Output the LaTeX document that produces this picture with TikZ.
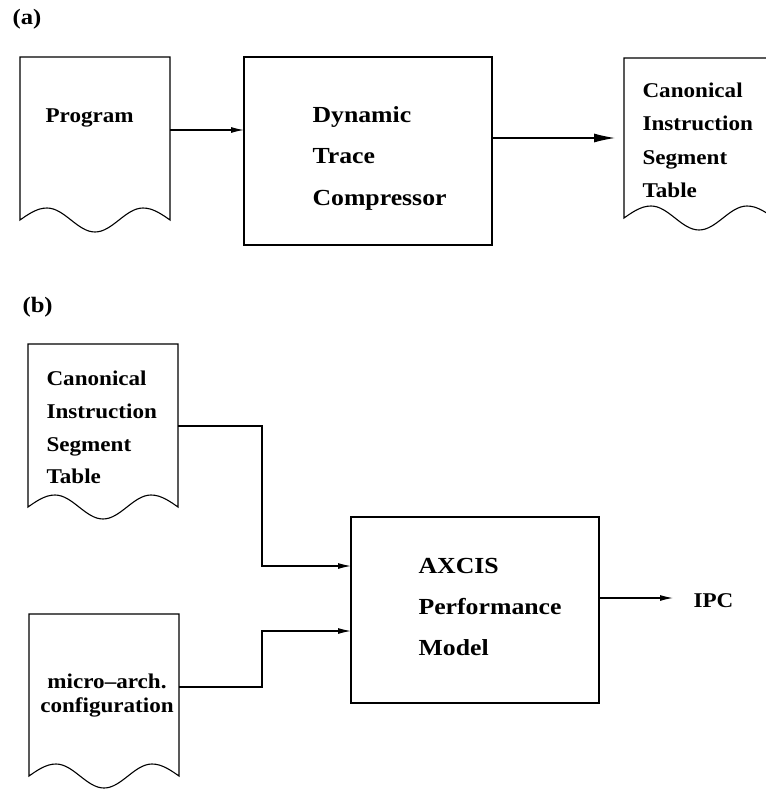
\documentclass[tikz,border=0pt]{standalone}
\usepackage{fontspec}
\setmainfont{Liberation Serif}
\newfontfamily\docfont[Ligatures=TeX,FakeStretch=1.1]{Liberation Serif}
\newfontfamily\boxfont[Ligatures=TeX,FakeStretch=1.12]{Liberation Serif}
\usetikzlibrary{arrows.meta}

% outline of a "document" shape drawn around an empty frame node
\newcommand\wavydoc[1]{%
  \draw (#1.south west) -- (#1.north west) -- (#1.north east) -- (#1.south east)
    sin ++(-27,-12) cos ++(-24,12) sin ++(-24,12)
    cos ++(-24,-12) sin ++(-24,-12) cos ++(-27,12) -- cycle;}

\begin{document}
\begin{tikzpicture}[x=1pt,y=-1pt,line width=1.1pt,
  arr/.style={-{Latex[length=13pt,width=6pt]}},
  bigarr/.style={-{Latex[length=21pt,width=9pt]}},
  docframe/.style={anchor=north west,inner sep=0pt,outer sep=0pt,minimum width=150pt},
  procbox/.style={draw,anchor=north west,inner sep=0pt,outer sep=0pt,minimum width=248pt},
  doctext/.style={anchor=base west,inner sep=0pt,font=\docfont\fontsize{21}{25}\selectfont\bfseries},
  boxtext/.style={anchor=base west,inner sep=0pt,font=\boxfont\fontsize{23}{28}\selectfont\bfseries},
  tag/.style={anchor=base west,inner sep=0pt,font=\boxfont\fontsize{22}{26}\selectfont\bfseries}]

\useasboundingbox (0,0) rectangle (765,789);

% ---------------- part (a) ----------------
\node[tag] (taga) at (12,25) {(a)};

\node[docframe,minimum height=163pt] (prog) at (20,57) {};
\wavydoc{prog}
\node[doctext] (progtxt) at (45,122) {Program};

\node[procbox,minimum height=188pt] (dtc) at (244,57) {};
\foreach \t/\y [count=\i] in {Dynamic/123,Trace/163,Compressor/205}
  \node[boxtext] (dtc-\i) at (312,\y) {\t};

\node[docframe,minimum height=160pt] (cista) at (624,58) {};
\wavydoc{cista}
\foreach \t/\y [count=\i] in {Canonical/98,Instruction/131,Segment/164,Table/197}
  \node[doctext] (cista-\i) at (642,\y) {\t};

\coordinate (cistain) at (615,138);
\draw[arr] (prog.east |- 0,130) -- (dtc.west |- 0,130);
\draw[bigarr] (dtc.east |- cistain) -- (cistain);

% ---------------- part (b) ----------------
\node[tag] (tagb) at (22,312) {(b)};

\node[docframe,minimum height=163pt] (cistb) at (28,344) {};
\wavydoc{cistb}
\foreach \t/\y [count=\i] in {Canonical/385,Instruction/418,Segment/451,Table/483}
  \node[doctext] (cistb-\i) at (46,\y) {\t};

\node[docframe,minimum height=162pt] (march) at (29,614) {};
\wavydoc{march}
\node[doctext,anchor=base] (march-1) at (107,688) {micro\textendash arch.};
\node[doctext,anchor=base] (march-2) at (107,712) {configuration};

\node[procbox,minimum height=186pt] (axcis) at (351,517) {};
\foreach \t/\y [count=\i] in {AXCIS/573,Performance/614,Model/655}
  \node[boxtext] (axcis-\i) at (418,\y) {\t};

\node[doctext] (ipc) at (693,607) {IPC};

\coordinate (bendup) at (262,566);
\coordinate (benddown) at (262,631);
\coordinate (ipcin) at (673,598);
\draw[arr] (cistb.east |- 0,426) -| (bendup) -- (axcis.west |- bendup);
\draw[arr] (march.east |- 0,687) -| (benddown) -- (axcis.west |- benddown);
\draw[arr] (axcis.east |- ipcin) -- (ipcin);

\end{tikzpicture}
\end{document}
